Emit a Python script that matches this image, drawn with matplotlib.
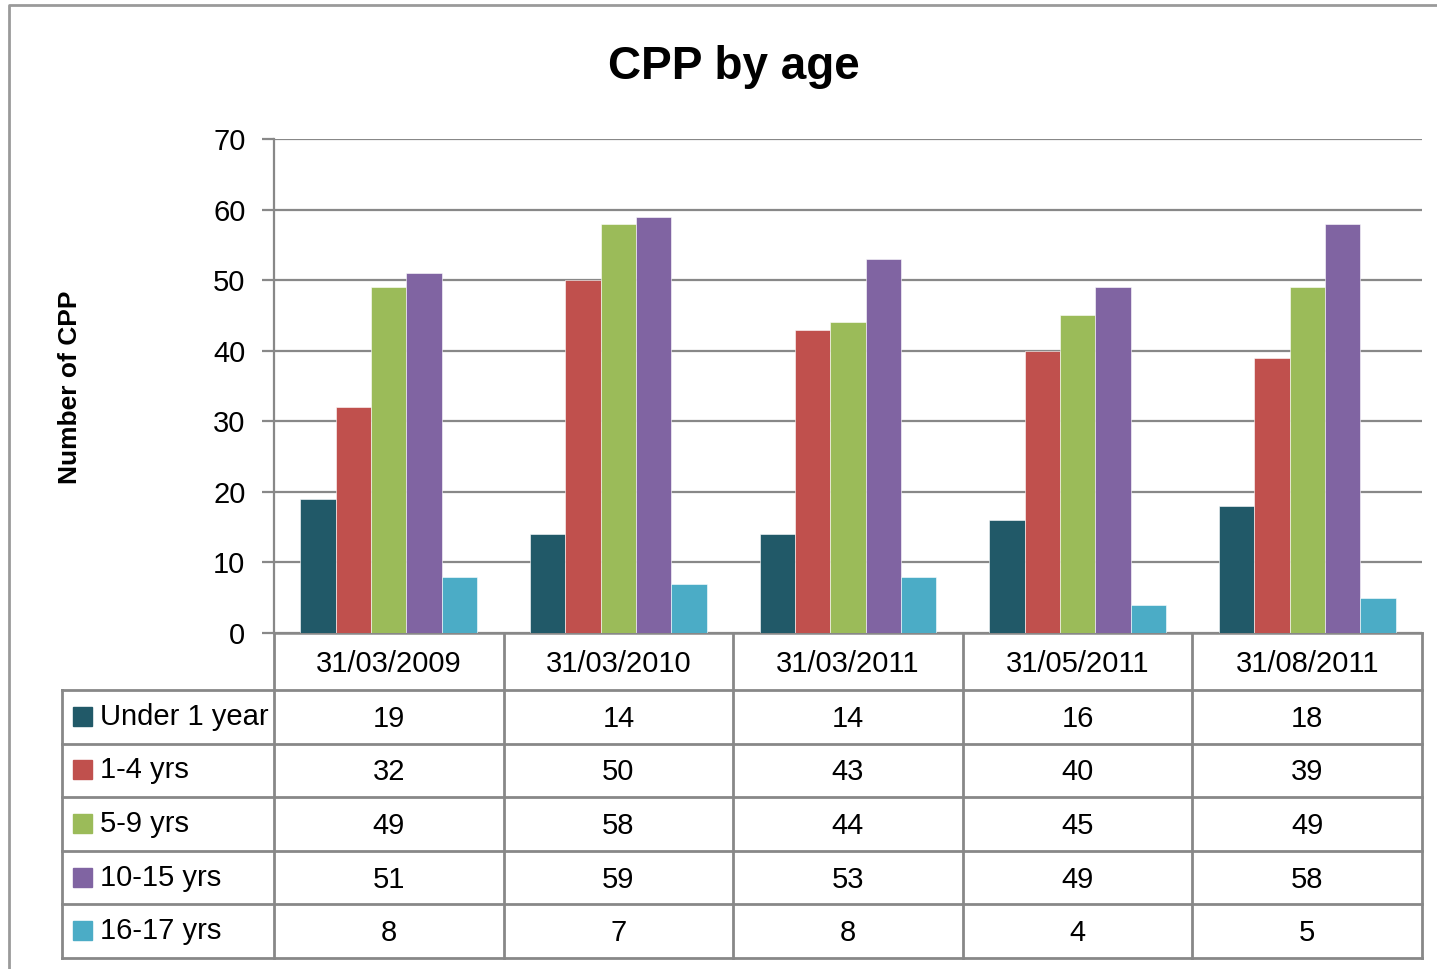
import numpy as np
import matplotlib
matplotlib.use('Agg')
import matplotlib.pyplot as plt

matplotlib.rcParams['font.family'] = 'sans-serif'
matplotlib.rcParams['font.sans-serif'] = ['Liberation Sans']

dates = ['31/03/2009', '31/03/2010', '31/03/2011', '31/05/2011', '31/08/2011']
groups = ['Under 1 year', '1-4 yrs', '5-9 yrs', '10-15 yrs', '16-17 yrs']
under1 = [19, 14, 14, 16, 18]
yrs1_4 = [32, 50, 43, 40, 39]
yrs5_9 = [49, 58, 44, 45, 49]
yrs10_15 = [51, 59, 53, 49, 58]
yrs16_17 = [8, 7, 8, 4, 5]
series = [under1, yrs1_4, yrs5_9, yrs10_15, yrs16_17]
colors = ['#215968', '#C0504D', '#9BBB59', '#8064A2', '#4BACC6']

W, H = 1437, 969
grey = '#888888'

# layout in pixels
px_left, px_right = 274, 1422
px_top, px_zero = 139, 633
tab_left, tab_head, tab_bottom = 62, 690, 958

fig = plt.figure(figsize=(W / 100, H / 100), dpi=100)
ax = fig.add_axes([px_left / W, 1 - px_zero / H, (px_right - px_left) / W, (px_zero - px_top) / H])

n = len(dates)
x = np.arange(n)
bw = 0.154
for j, (vals, c) in enumerate(zip(series, colors)):
    ax.bar(x + (j - 2) * bw, vals, bw, color=c, edgecolor='white', linewidth=0.4, zorder=3)

ax.set_xlim(-0.5, n - 0.5)
ax.set_ylim(0, 70)
ax.set_yticks(range(0, 71, 10))
ax.yaxis.grid(True, color=grey, lw=1.6, zorder=0)
ax.set_xticks([])
for s in ['top', 'right']:
    ax.spines[s].set_visible(False)
ax.spines['left'].set_color(grey)
ax.spines['left'].set_linewidth(1.6)
ax.spines['bottom'].set_color(grey)
ax.spines['bottom'].set_linewidth(1.8)
ax.tick_params(axis='y', length=8.6, width=1.6, color=grey, pad=12, labelsize=21)
ax.set_facecolor('none')

fig.text(734 / W, 1 - 67 / H, 'CPP by age', ha='center', va='center',
         fontsize=33, fontweight='bold')
fig.text(70 / W, 1 - 387 / H, 'Number of CPP', ha='center', va='center',
         rotation=90, fontsize=19, fontweight='bold')

# data table under the axis, drawn in pixel space
tab = fig.add_axes([0, 0, 1, 1])
tab.set_xlim(0, W)
tab.set_ylim(H, 0)
tab.axis('off')

colw = (px_right - px_left) / n
rowh = (tab_bottom - tab_head) / len(groups)
lk = dict(color=grey, lw=2)

# outer chart border
tab.plot([9, 9, W + 5], [H + 5, 5, 5], color='#9a9a9a', lw=2)

for i in range(n + 1):
    xx = px_left + i * colw
    tab.plot([xx, xx], [px_zero, tab_bottom], **lk)
tab.plot([tab_left, tab_left], [tab_head, tab_bottom], **lk)
for r in range(len(groups) + 1):
    yy = tab_head + r * rowh
    tab.plot([tab_left, px_right], [yy, yy], **lk)

for i, d in enumerate(dates):
    tab.text(px_left + (i + 0.5) * colw, (px_zero + tab_head) / 2 + 2, d,
             ha='center', va='center', fontsize=21)

for r, (g, vals, c) in enumerate(zip(groups, series, colors)):
    yc = tab_head + (r + 0.5) * rowh
    tab.add_patch(plt.Rectangle((73, yc - 10), 19, 19, color=c))
    tab.text(100, yc, g, ha='left', va='center', fontsize=21)
    for i, v in enumerate(vals):
        tab.text(px_left + (i + 0.5) * colw, yc + 2, str(v),
                 ha='center', va='center', fontsize=21)

fig.savefig('out.png', dpi=100, facecolor='white')
